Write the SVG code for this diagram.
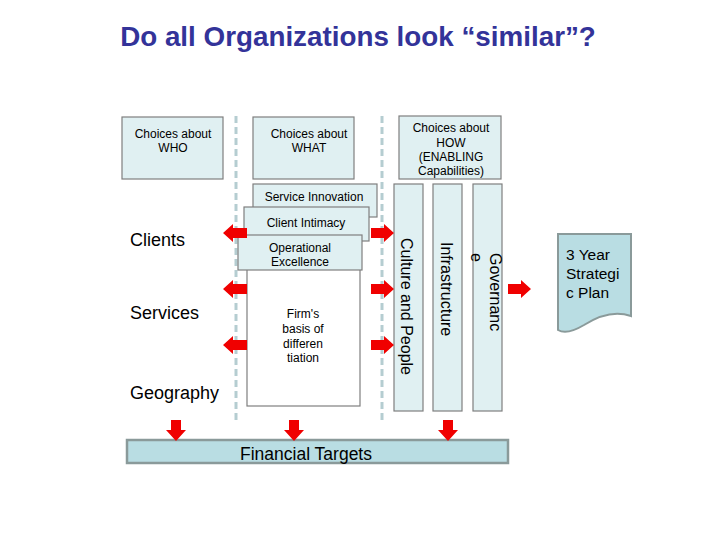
<svg xmlns="http://www.w3.org/2000/svg" width="720" height="540" viewBox="0 0 720 540">
<defs>
<style>
.box{fill:#e0f0f2;stroke:#7f7f7f;stroke-width:1.2}
.t{font-family:"Liberation Sans",Arial,sans-serif;fill:#000}
.s{font-size:12px}
.big{font-size:18px}
.v{font-size:16px}
.dash{stroke:#b5cdd1;stroke-width:3;stroke-dasharray:7,4;fill:none}
.arr{fill:#f00000}
</style>
<path id="la" d="M0,0 L10,-9 L10,-5 L24,-5 L24,5 L10,5 L10,9 Z"/>
<path id="ra" d="M0,0 L-10,-9 L-10,-5 L-23,-5 L-23,5 L-10,5 L-10,9 Z"/>
<path id="da" d="M0,0 L-10,-11 L-5,-11 L-5,-21 L5,-21 L5,-11 L10,-11 Z"/>
</defs>
<rect width="720" height="540" fill="#ffffff"/>
<text class="t" x="358" y="46" text-anchor="middle" font-size="27.8" font-weight="bold" style="fill:#333399">Do all Organizations look “similar”?</text>

<g id="dashes">
<line class="dash" x1="236" y1="116" x2="236" y2="424"/>
<line class="dash" x1="382" y1="116" x2="382" y2="424"/>
</g>

<g id="who"><rect class="box" x="122" y="117" width="101" height="62"/>
<text class="t s" text-anchor="middle"><tspan x="173" y="138">Choices about</tspan><tspan x="173" y="152">WHO</tspan></text></g>
<g id="what"><rect class="box" x="253" y="117" width="101" height="62"/>
<text class="t s" text-anchor="middle"><tspan x="309" y="138">Choices about</tspan><tspan x="309" y="152">WHAT</tspan></text></g>
<g id="how"><rect class="box" x="399" y="116" width="102" height="63"/>
<text class="t s" text-anchor="middle"><tspan x="451" y="132">Choices about</tspan><tspan x="451" y="147">HOW</tspan><tspan x="451" y="161">(ENABLING</tspan><tspan x="451" y="175">Capabilities)</tspan></text></g>

<g id="service-innovation"><rect class="box" x="253" y="184" width="124" height="33"/>
<text class="t s" x="314" y="201" text-anchor="middle">Service Innovation</text></g>
<g id="firm"><rect x="247" y="262" width="113" height="144" fill="#ffffff" stroke="#7f7f7f" stroke-width="1.2"/>
<text class="t s" text-anchor="middle"><tspan x="303" y="318">Firm's</tspan><tspan x="303" y="333">basis of</tspan><tspan x="303" y="348">differen</tspan><tspan x="303" y="362">tiation</tspan></text></g>
<g id="client-intimacy"><rect class="box" x="244" y="207" width="125" height="34"/>
<text class="t s" x="306" y="227" text-anchor="middle">Client Intimacy</text></g>
<g id="operational-excellence"><rect class="box" x="238" y="235" width="124" height="35"/>
<text class="t s" text-anchor="middle"><tspan x="300" y="252">Operational</tspan><tspan x="300" y="266">Excellence</tspan></text></g>

<g id="labels">
<text class="t big" x="130" y="246">Clients</text>
<text class="t big" x="130" y="319">Services</text>
<text class="t big" x="130" y="399">Geography</text>
</g>

<g id="culture"><rect class="box" x="394" y="184" width="29" height="227"/>
<text class="t v" transform="translate(401,238) rotate(90)">Culture and People</text></g>
<g id="infrastructure"><rect class="box" x="433" y="184" width="29" height="227"/>
<text class="t v" transform="translate(441,242) rotate(90)">Infrastructure</text></g>
<g id="governance"><rect class="box" x="473" y="184" width="29" height="227"/>
<text class="t v" transform="translate(490,253) rotate(90)"><tspan x="0" y="0">Governanc</tspan><tspan x="0" y="19">e</tspan></text></g>

<g id="plan"><path d="M558,234 H631 V316 C614,310 598,316 584,325 C574,331 565,334 558,330 Z" fill="#b9dde3" stroke="#8a9a9a" stroke-width="2"/>
<text class="t" font-size="15.5"><tspan x="566" y="260">3 Year</tspan><tspan x="566" y="279">Strategi</tspan><tspan x="566" y="298">c Plan</tspan></text></g>

<g id="financial"><rect x="127" y="440" width="381" height="23" fill="#b9dde3" stroke="#8a9a9a" stroke-width="2.5"/>
<text class="t" font-size="17.5" x="306" y="460" text-anchor="middle">Financial Targets</text></g>

<g id="connectors">
<use href="#la" class="arr" x="223" y="233"/>
<use href="#la" class="arr" x="223" y="289"/>
<use href="#la" class="arr" x="223" y="345"/>
<use href="#ra" class="arr" x="394" y="233"/>
<use href="#ra" class="arr" x="394" y="289"/>
<use href="#ra" class="arr" x="394" y="345"/>
<use href="#ra" class="arr" x="531" y="289"/>
<use href="#da" class="arr" x="176" y="441"/>
<use href="#da" class="arr" x="294" y="441"/>
<use href="#da" class="arr" x="448" y="441"/>
</g>
</svg>
